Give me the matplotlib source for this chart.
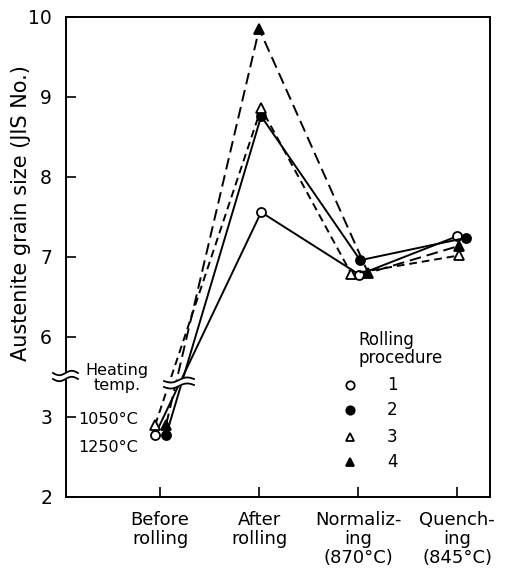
import numpy as np
import matplotlib
matplotlib.use("Agg")
from matplotlib import pyplot as plt

# Data
stages = ["Before\nrolling", "After\nrolling", "Normaliz-\ning\n(870°C)", "Quench-\ning\n(845°C)"]
proc1 = [2.78, 7.56, 6.78, 7.26]   # open circle
proc2 = [2.77, 8.76, 6.96, 7.24]   # filled circle
proc3 = [2.90, 8.86, 6.79, 7.02]   # open triangle
proc4 = [2.90, 9.85, 6.80, 7.14]   # filled triangle
ytick_vals = [2, 3, 6, 7, 8, 9, 10]


def vis(v):
    # broken y axis: 2-3 below the break, 6-10 above it
    v = np.asarray(v, dtype=float)
    return np.where(v <= 4.5, v - 2, v - 4)


fig = plt.figure(figsize=(5.13, 5.79), dpi=100)
ax = fig.add_axes([66 / 513, 1 - 497 / 579, 424 / 513, 480 / 579])

x = np.arange(1, 5)
series = [
    (proc1, "o", "white", "-", [-0.05, 0.02, 0.01, 0.00]),
    (proc2, "o", "black", "-", [0.06, 0.02, 0.02, 0.09]),
    (proc3, "^", "white", (0, (4, 2.5)), [-0.05, 0.02, -0.07, 0.02]),
    (proc4, "^", "black", (0, (6, 3)), [0.06, 0.00, 0.10, 0.02]),
]
for vals, mk, fc, ls, dx in series:
    ax.plot(x + np.array(dx), vis(vals), color="black", lw=1.4, ls=ls,
            marker=mk, mfc=fc, mec="black", mew=1.3, ms=6.5, zorder=3)

ax.set_xlim(0.05, 4.33)
ax.set_ylim(0, 6)
ax.set_yticks(vis(ytick_vals))
ax.set_yticklabels([str(v) for v in ytick_vals], fontsize=13.5)
ax.set_xticks(x)
ax.set_xticklabels(stages, fontsize=13, linespacing=1.08, va="top")
ax.tick_params(direction="in", length=7, width=1.2)
ax.tick_params(axis="x", pad=10)
ax.tick_params(axis="y", pad=10)
for s in ax.spines.values():
    s.set_linewidth(1.4)
ax.set_ylabel("Austenite grain size (JIS No.)", fontsize=15)
ax.yaxis.set_label_coords(-0.082, 0.592)


# break marks
def px(xp, yp):
    return (xp - 66) / 424, (497 - yp) / 480


t = np.linspace(0, 1, 40)
# y axis break
xs = 53 + 25 * t
w = 2.2 * np.sin(2 * np.pi * t)
for yb in (373, 379):
    pts = [px(a, yb + b) for a, b in zip(xs, w)]
    ax.plot(*zip(*pts), transform=ax.transAxes, color="black", lw=1.3,
            clip_on=False, zorder=6)
gap = [px(a, 373 + b) for a, b in zip(xs, w)] + [px(a, 379 + b) for a, b in zip(xs[::-1], w[::-1])]
ax.fill(*zip(*gap), transform=ax.transAxes, color="white", clip_on=False, zorder=5)
# data lines break
xs2 = 164 + 30 * t
w2 = 2.0 * np.sin(2 * np.pi * t)
for yb in (381, 387):
    pts = [px(a, yb + b - 2 * t_) for a, b, t_ in zip(xs2, w2, t)]
    ax.plot(*zip(*pts), transform=ax.transAxes, color="black", lw=1.3, zorder=6)
gap2 = [px(a, 381 + b - 2 * t_) for a, b, t_ in zip(xs2, w2, t)] + \
       [px(a, 387 + b - 2 * t_) for a, b, t_ in zip(xs2[::-1], w2[::-1], t[::-1])]
ax.fill(*zip(*gap2), transform=ax.transAxes, color="white", zorder=5)

# heating temperature notes
ax.text(*px(117, 378), "Heating\ntemp.", transform=ax.transAxes, ha="center",
        va="center", fontsize=11.5, linespacing=0.95)
ax.text(*px(78, 419), "1050°C", transform=ax.transAxes, ha="left", va="center", fontsize=11.5)
ax.text(*px(78, 448), "1250°C", transform=ax.transAxes, ha="left", va="center", fontsize=11.5)

# legend drawn by hand
ax.text(*px(358, 349), "Rolling\nprocedure", transform=ax.transAxes, ha="left",
        va="center", fontsize=12, linespacing=1.0)
leg_y = [385, 410, 437, 462]
for (vals, mk, fc, ls, dx), yl, lab in zip(series, leg_y, ["1", "2", "3", "4"]):
    lx, ly = px(350, yl)
    ax.plot([lx], [ly], transform=ax.transAxes, marker=mk, mfc=fc, mec="black",
            mew=1.3, ms=6, ls="none")
    ax.text(*px(392, yl), lab, transform=ax.transAxes, ha="center", va="center", fontsize=12)

plt.savefig("out.png", dpi=100)
